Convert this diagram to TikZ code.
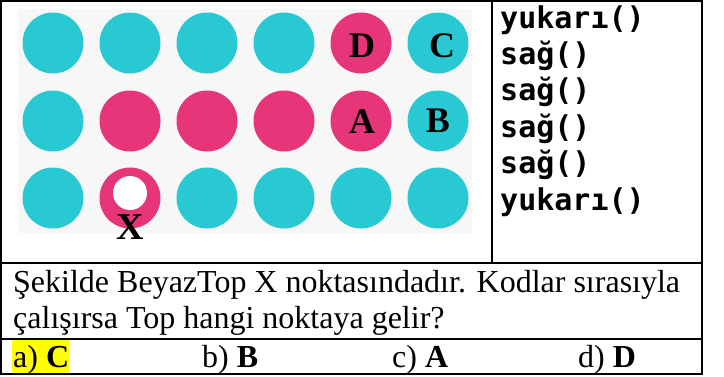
\documentclass[tikz,border=0pt]{standalone}
\usepackage{fontspec}
\setmainfont{Liberation Serif}
\newfontfamily\codefont{DejaVu Sans Mono}
\definecolor{dotcyan}{HTML}{29C9D4}
\definecolor{dotpink}{HTML}{E63679}
\definecolor{bggray}{HTML}{F7F7F7}
\definecolor{hl}{HTML}{FFFF00}
\begin{document}
\begin{tikzpicture}[x=1pt,y=-1pt,
  dot/.style={circle,inner sep=0pt,minimum size=61pt},
  lbl/.style={inner sep=0pt,font=\fontsize{36}{36}\selectfont\bfseries},
  codeline/.style={anchor=base west,inner sep=0pt,font=\codefont\bfseries\fontsize{30}{30}\selectfont},
  qtext/.style={anchor=base west,inner sep=0pt,font=\fontsize{32}{32}\selectfont},
  rule/.style={line width=2pt}]
\useasboundingbox (0,0) rectangle (724,376);
\fill[white] (0,0) rectangle (724,376);
% picture background
\fill[bggray] (18,9) rectangle (472,233);
% dots
\foreach \c [count=\i] in {dotcyan,dotcyan,dotcyan,dotcyan,dotpink,dotcyan}
  \node[dot,fill=\c] (ra\i) at ({53+77*(\i-1)},43) {};
\foreach \c [count=\i] in {dotcyan,dotpink,dotpink,dotpink,dotpink,dotcyan}
  \node[dot,fill=\c] (rb\i) at ({53+77*(\i-1)},121) {};
\foreach \c [count=\i] in {dotcyan,dotpink,dotcyan,dotcyan,dotcyan,dotcyan}
  \node[dot,fill=\c] (rc\i) at ({53+77*(\i-1)},198) {};
\node[dot,fill=white,minimum size=34pt] (ball) at (130,193) {};
% letters
\node[lbl] (lD) at (362,46) {D};
\node[lbl] (lC) at (442,46) {C};
\node[lbl] (lA) at (362,122) {A};
\node[lbl] (lB) at (438,121) {B};
\node[lbl,font=\fontsize{38}{38}\selectfont\bfseries] (lX) at (130,227) {X};
% code
\node[codeline] (k1) at (500,28) {yukarı()};
\node[codeline] (k2) at (500,64.4) {sağ()};
\node[codeline] (k3) at (500,100.8) {sağ()};
\node[codeline] (k4) at (500,137.2) {sağ()};
\node[codeline] (k5) at (500,173.6) {sağ()};
\node[codeline] (k6) at (500,210) {yukarı()};
% question
\node[qtext] (q1) at (13,292) {Şekilde BeyazTop X noktasındadır. Kodlar sırasıyla};
\node[qtext] (q2) at (13,328) {çalışırsa Top hangi noktaya gelir?};
% answers
\fill[hl] (12,339) rectangle (69,373);
\node[qtext] (aa) at (13,367) {a) \textbf{C}};
\node[qtext] (ab) at (202,367) {b) \textbf{B}};
\node[qtext] (ac) at (392,367) {c) \textbf{A}};
\node[qtext] (ad) at (578,367) {d) \textbf{D}};
% table rules
\draw[rule] (1,1) rectangle (702,374);
\draw[rule] (492,1) -- (492,263);
\draw[rule] (1,263) -- (702,263);
\draw[rule] (1,339) -- (702,339);
\end{tikzpicture}
\end{document}
